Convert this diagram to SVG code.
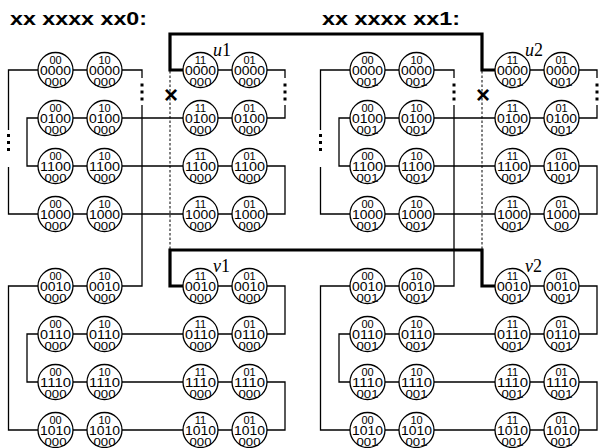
<svg xmlns="http://www.w3.org/2000/svg" width="600" height="448" viewBox="0 0 600 448">
<defs>
<style>
.n circle{fill:#fff;stroke:#000;stroke-width:1.3}
.n text{font-family:"Liberation Sans",Arial,sans-serif;text-anchor:middle;fill:#000}
.t{font-size:11px}
.m{font-size:12px}
.b{font-size:11.5px}
.c{fill:none;stroke:#000;stroke-width:1.3}
.k{fill:none;stroke:#000;stroke-width:3.2}
.d{fill:none;stroke:#000;stroke-width:1;stroke-dasharray:2.5 2}
.dt{fill:#000}
.title{font-family:"Liberation Sans",Arial,sans-serif;font-weight:bold;font-size:19px}
.lab{font-family:"Liberation Serif","Times New Roman",serif;font-size:18px}
.x{font-family:"Liberation Sans",Arial,sans-serif;font-weight:bold;font-size:24px;text-anchor:middle}
</style>
</defs>
<text class="title" x="10" y="24.5" textLength="137" lengthAdjust="spacingAndGlyphs">xx xxxx xx0:</text>
<text class="title" x="322" y="24.5" textLength="138" lengthAdjust="spacingAndGlyphs">xx xxxx xx1:</text>
<g id="connectors">
<g id="left-half">
<path class="c" d="M8.5,130 V70 H38 M73,70 H87 M122,70 H142 V78 M142,105 V286 H122 M218,70 H232 M267,70 H285 V78 M285,105 V118 H267"/>
<path class="c" d="M38,118 H27 V166 H38 M73,118 H87 M122,118 H183 M218,118 H232"/>
<path class="c" d="M73,166 H87 M122,166 H183 M218,166 H232 M267,166 H285 V214 H267"/>
<path class="c" d="M8.5,167 V214 H38 M73,214 H87 M122,214 H183 M218,214 H232"/>
<path class="c" d="M38,286 H8.5 V430 H38 M73,286 H87 M218,286 H232 M267,286 H285 V334 H267"/>
<path class="c" d="M38,334 H27 V382 H38 M73,334 H87 M122,334 H183 M218,334 H232"/>
<path class="c" d="M73,382 H87 M122,382 H183 M218,382 H232 M267,382 H285 V430 H267"/>
<path class="c" d="M73,430 H87 M122,430 H183 M218,430 H232"/>
<path class="d" d="M170,71 V249"/>
<rect class="dt" x="140.5" y="83.5" width="3" height="3"/><rect class="dt" x="140.5" y="90.5" width="3" height="3"/><rect class="dt" x="140.5" y="97.5" width="3" height="3"/>
<rect class="dt" x="283.5" y="83.5" width="3" height="3"/><rect class="dt" x="283.5" y="90.5" width="3" height="3"/><rect class="dt" x="283.5" y="97.5" width="3" height="3"/>
<rect class="dt" x="7" y="134" width="3" height="3"/><rect class="dt" x="7" y="141" width="3" height="3"/><rect class="dt" x="7" y="148" width="3" height="3"/>
<text class="x" x="171" y="103">×</text>
</g>
<g id="right-half" transform="translate(312,0)">
<path class="c" d="M8.5,130 V70 H38 M73,70 H87 M122,70 H142 V78 M142,105 V286 H122 M218,70 H232 M267,70 H285 V78 M285,105 V118 H267"/>
<path class="c" d="M38,118 H27 V166 H38 M73,118 H87 M122,118 H183 M218,118 H232"/>
<path class="c" d="M73,166 H87 M122,166 H183 M218,166 H232 M267,166 H285 V214 H267"/>
<path class="c" d="M8.5,167 V214 H38 M73,214 H87 M122,214 H183 M218,214 H232"/>
<path class="c" d="M38,286 H8.5 V430 H38 M73,286 H87 M218,286 H232 M267,286 H285 V334 H267"/>
<path class="c" d="M38,334 H27 V382 H38 M73,334 H87 M122,334 H183 M218,334 H232"/>
<path class="c" d="M73,382 H87 M122,382 H183 M218,382 H232 M267,382 H285 V430 H267"/>
<path class="c" d="M73,430 H87 M122,430 H183 M218,430 H232"/>
<path class="d" d="M170,71 V249"/>
<rect class="dt" x="140.5" y="83.5" width="3" height="3"/><rect class="dt" x="140.5" y="90.5" width="3" height="3"/><rect class="dt" x="140.5" y="97.5" width="3" height="3"/>
<rect class="dt" x="283.5" y="83.5" width="3" height="3"/><rect class="dt" x="283.5" y="90.5" width="3" height="3"/><rect class="dt" x="283.5" y="97.5" width="3" height="3"/>
<rect class="dt" x="7" y="134" width="3" height="3"/><rect class="dt" x="7" y="141" width="3" height="3"/><rect class="dt" x="7" y="148" width="3" height="3"/>
<text class="x" x="171" y="103">×</text>
</g>
<path id="edge-u1-u2" class="k" d="M183,70 H170 V34 H482 V70 H495"/>
<path id="edge-v1-v2" class="k" d="M183,286 H170 V250 H482 V286 H495"/>
</g>
<text class="lab" x="213" y="56"><tspan font-style="italic">u</tspan>1</text>
<text class="lab" x="525" y="56"><tspan font-style="italic">u</tspan>2</text>
<text class="lab" x="213" y="272"><tspan font-style="italic">v</tspan>1</text>
<text class="lab" x="525" y="272"><tspan font-style="italic">v</tspan>2</text>
<g id="nodes">
<g id="L00_0000" class="n" transform="translate(55.5,70)"><circle r="17.5"/><text class="t" y="-6">00</text><text class="m" y="4.5" textLength="31" lengthAdjust="spacingAndGlyphs">0000</text><text class="b" y="15.5" textLength="22" lengthAdjust="spacingAndGlyphs">000</text></g>
<g id="L10_0000" class="n" transform="translate(104.5,70)"><circle r="17.5"/><text class="t" y="-6">10</text><text class="m" y="4.5" textLength="31" lengthAdjust="spacingAndGlyphs">0000</text><text class="b" y="15.5" textLength="22" lengthAdjust="spacingAndGlyphs">000</text></g>
<g id="L11_0000" class="n" transform="translate(200.5,70)"><circle r="17.5"/><text class="t" y="-6">11</text><text class="m" y="4.5" textLength="31" lengthAdjust="spacingAndGlyphs">0000</text><text class="b" y="15.5" textLength="22" lengthAdjust="spacingAndGlyphs">000</text></g>
<g id="L01_0000" class="n" transform="translate(249.5,70)"><circle r="17.5"/><text class="t" y="-6">01</text><text class="m" y="4.5" textLength="31" lengthAdjust="spacingAndGlyphs">0000</text><text class="b" y="15.5" textLength="22" lengthAdjust="spacingAndGlyphs">000</text></g>
<g id="L00_0100" class="n" transform="translate(55.5,118)"><circle r="17.5"/><text class="t" y="-6">00</text><text class="m" y="4.5" textLength="31" lengthAdjust="spacingAndGlyphs">0100</text><text class="b" y="15.5" textLength="22" lengthAdjust="spacingAndGlyphs">000</text></g>
<g id="L10_0100" class="n" transform="translate(104.5,118)"><circle r="17.5"/><text class="t" y="-6">10</text><text class="m" y="4.5" textLength="31" lengthAdjust="spacingAndGlyphs">0100</text><text class="b" y="15.5" textLength="22" lengthAdjust="spacingAndGlyphs">000</text></g>
<g id="L11_0100" class="n" transform="translate(200.5,118)"><circle r="17.5"/><text class="t" y="-6">11</text><text class="m" y="4.5" textLength="31" lengthAdjust="spacingAndGlyphs">0100</text><text class="b" y="15.5" textLength="22" lengthAdjust="spacingAndGlyphs">000</text></g>
<g id="L01_0100" class="n" transform="translate(249.5,118)"><circle r="17.5"/><text class="t" y="-6">01</text><text class="m" y="4.5" textLength="31" lengthAdjust="spacingAndGlyphs">0100</text><text class="b" y="15.5" textLength="22" lengthAdjust="spacingAndGlyphs">000</text></g>
<g id="L00_1100" class="n" transform="translate(55.5,166)"><circle r="17.5"/><text class="t" y="-6">00</text><text class="m" y="4.5" textLength="31" lengthAdjust="spacingAndGlyphs">1100</text><text class="b" y="15.5" textLength="22" lengthAdjust="spacingAndGlyphs">000</text></g>
<g id="L10_1100" class="n" transform="translate(104.5,166)"><circle r="17.5"/><text class="t" y="-6">10</text><text class="m" y="4.5" textLength="31" lengthAdjust="spacingAndGlyphs">1100</text><text class="b" y="15.5" textLength="22" lengthAdjust="spacingAndGlyphs">000</text></g>
<g id="L11_1100" class="n" transform="translate(200.5,166)"><circle r="17.5"/><text class="t" y="-6">11</text><text class="m" y="4.5" textLength="31" lengthAdjust="spacingAndGlyphs">1100</text><text class="b" y="15.5" textLength="22" lengthAdjust="spacingAndGlyphs">000</text></g>
<g id="L01_1100" class="n" transform="translate(249.5,166)"><circle r="17.5"/><text class="t" y="-6">01</text><text class="m" y="4.5" textLength="31" lengthAdjust="spacingAndGlyphs">1100</text><text class="b" y="15.5" textLength="22" lengthAdjust="spacingAndGlyphs">000</text></g>
<g id="L00_1000" class="n" transform="translate(55.5,214)"><circle r="17.5"/><text class="t" y="-6">00</text><text class="m" y="4.5" textLength="31" lengthAdjust="spacingAndGlyphs">1000</text><text class="b" y="15.5" textLength="22" lengthAdjust="spacingAndGlyphs">000</text></g>
<g id="L10_1000" class="n" transform="translate(104.5,214)"><circle r="17.5"/><text class="t" y="-6">10</text><text class="m" y="4.5" textLength="31" lengthAdjust="spacingAndGlyphs">1000</text><text class="b" y="15.5" textLength="22" lengthAdjust="spacingAndGlyphs">000</text></g>
<g id="L11_1000" class="n" transform="translate(200.5,214)"><circle r="17.5"/><text class="t" y="-6">11</text><text class="m" y="4.5" textLength="31" lengthAdjust="spacingAndGlyphs">1000</text><text class="b" y="15.5" textLength="22" lengthAdjust="spacingAndGlyphs">000</text></g>
<g id="L01_1000" class="n" transform="translate(249.5,214)"><circle r="17.5"/><text class="t" y="-6">01</text><text class="m" y="4.5" textLength="31" lengthAdjust="spacingAndGlyphs">1000</text><text class="b" y="15.5" textLength="22" lengthAdjust="spacingAndGlyphs">000</text></g>
<g id="L00_0010" class="n" transform="translate(55.5,286)"><circle r="17.5"/><text class="t" y="-6">00</text><text class="m" y="4.5" textLength="31" lengthAdjust="spacingAndGlyphs">0010</text><text class="b" y="15.5" textLength="22" lengthAdjust="spacingAndGlyphs">000</text></g>
<g id="L10_0010" class="n" transform="translate(104.5,286)"><circle r="17.5"/><text class="t" y="-6">10</text><text class="m" y="4.5" textLength="31" lengthAdjust="spacingAndGlyphs">0010</text><text class="b" y="15.5" textLength="22" lengthAdjust="spacingAndGlyphs">000</text></g>
<g id="L11_0010" class="n" transform="translate(200.5,286)"><circle r="17.5"/><text class="t" y="-6">11</text><text class="m" y="4.5" textLength="31" lengthAdjust="spacingAndGlyphs">0010</text><text class="b" y="15.5" textLength="22" lengthAdjust="spacingAndGlyphs">000</text></g>
<g id="L01_0010" class="n" transform="translate(249.5,286)"><circle r="17.5"/><text class="t" y="-6">01</text><text class="m" y="4.5" textLength="31" lengthAdjust="spacingAndGlyphs">0010</text><text class="b" y="15.5" textLength="22" lengthAdjust="spacingAndGlyphs">000</text></g>
<g id="L00_0110" class="n" transform="translate(55.5,334)"><circle r="17.5"/><text class="t" y="-6">00</text><text class="m" y="4.5" textLength="31" lengthAdjust="spacingAndGlyphs">0110</text><text class="b" y="15.5" textLength="22" lengthAdjust="spacingAndGlyphs">000</text></g>
<g id="L10_0110" class="n" transform="translate(104.5,334)"><circle r="17.5"/><text class="t" y="-6">10</text><text class="m" y="4.5" textLength="31" lengthAdjust="spacingAndGlyphs">0110</text><text class="b" y="15.5" textLength="22" lengthAdjust="spacingAndGlyphs">000</text></g>
<g id="L11_0110" class="n" transform="translate(200.5,334)"><circle r="17.5"/><text class="t" y="-6">11</text><text class="m" y="4.5" textLength="31" lengthAdjust="spacingAndGlyphs">0110</text><text class="b" y="15.5" textLength="22" lengthAdjust="spacingAndGlyphs">000</text></g>
<g id="L01_0110" class="n" transform="translate(249.5,334)"><circle r="17.5"/><text class="t" y="-6">01</text><text class="m" y="4.5" textLength="31" lengthAdjust="spacingAndGlyphs">0110</text><text class="b" y="15.5" textLength="22" lengthAdjust="spacingAndGlyphs">000</text></g>
<g id="L00_1110" class="n" transform="translate(55.5,382)"><circle r="17.5"/><text class="t" y="-6">00</text><text class="m" y="4.5" textLength="31" lengthAdjust="spacingAndGlyphs">1110</text><text class="b" y="15.5" textLength="22" lengthAdjust="spacingAndGlyphs">000</text></g>
<g id="L10_1110" class="n" transform="translate(104.5,382)"><circle r="17.5"/><text class="t" y="-6">10</text><text class="m" y="4.5" textLength="31" lengthAdjust="spacingAndGlyphs">1110</text><text class="b" y="15.5" textLength="22" lengthAdjust="spacingAndGlyphs">000</text></g>
<g id="L11_1110" class="n" transform="translate(200.5,382)"><circle r="17.5"/><text class="t" y="-6">11</text><text class="m" y="4.5" textLength="31" lengthAdjust="spacingAndGlyphs">1110</text><text class="b" y="15.5" textLength="22" lengthAdjust="spacingAndGlyphs">000</text></g>
<g id="L01_1110" class="n" transform="translate(249.5,382)"><circle r="17.5"/><text class="t" y="-6">01</text><text class="m" y="4.5" textLength="31" lengthAdjust="spacingAndGlyphs">1110</text><text class="b" y="15.5" textLength="22" lengthAdjust="spacingAndGlyphs">000</text></g>
<g id="L00_1010" class="n" transform="translate(55.5,430)"><circle r="17.5"/><text class="t" y="-6">00</text><text class="m" y="4.5" textLength="31" lengthAdjust="spacingAndGlyphs">1010</text><text class="b" y="15.5" textLength="22" lengthAdjust="spacingAndGlyphs">000</text></g>
<g id="L10_1010" class="n" transform="translate(104.5,430)"><circle r="17.5"/><text class="t" y="-6">10</text><text class="m" y="4.5" textLength="31" lengthAdjust="spacingAndGlyphs">1010</text><text class="b" y="15.5" textLength="22" lengthAdjust="spacingAndGlyphs">000</text></g>
<g id="L11_1010" class="n" transform="translate(200.5,430)"><circle r="17.5"/><text class="t" y="-6">11</text><text class="m" y="4.5" textLength="31" lengthAdjust="spacingAndGlyphs">1010</text><text class="b" y="15.5" textLength="22" lengthAdjust="spacingAndGlyphs">000</text></g>
<g id="L01_1010" class="n" transform="translate(249.5,430)"><circle r="17.5"/><text class="t" y="-6">01</text><text class="m" y="4.5" textLength="31" lengthAdjust="spacingAndGlyphs">1010</text><text class="b" y="15.5" textLength="22" lengthAdjust="spacingAndGlyphs">000</text></g>
<g id="R00_0000" class="n" transform="translate(367.5,70)"><circle r="17.5"/><text class="t" y="-6">00</text><text class="m" y="4.5" textLength="31" lengthAdjust="spacingAndGlyphs">0000</text><text class="b" y="15.5" textLength="22" lengthAdjust="spacingAndGlyphs">001</text></g>
<g id="R10_0000" class="n" transform="translate(416.5,70)"><circle r="17.5"/><text class="t" y="-6">10</text><text class="m" y="4.5" textLength="31" lengthAdjust="spacingAndGlyphs">0000</text><text class="b" y="15.5" textLength="22" lengthAdjust="spacingAndGlyphs">001</text></g>
<g id="R11_0000" class="n" transform="translate(512.5,70)"><circle r="17.5"/><text class="t" y="-6">11</text><text class="m" y="4.5" textLength="31" lengthAdjust="spacingAndGlyphs">0000</text><text class="b" y="15.5" textLength="22" lengthAdjust="spacingAndGlyphs">001</text></g>
<g id="R01_0000" class="n" transform="translate(561.5,70)"><circle r="17.5"/><text class="t" y="-6">01</text><text class="m" y="4.5" textLength="31" lengthAdjust="spacingAndGlyphs">0000</text><text class="b" y="15.5" textLength="22" lengthAdjust="spacingAndGlyphs">001</text></g>
<g id="R00_0100" class="n" transform="translate(367.5,118)"><circle r="17.5"/><text class="t" y="-6">00</text><text class="m" y="4.5" textLength="31" lengthAdjust="spacingAndGlyphs">0100</text><text class="b" y="15.5" textLength="22" lengthAdjust="spacingAndGlyphs">001</text></g>
<g id="R10_0100" class="n" transform="translate(416.5,118)"><circle r="17.5"/><text class="t" y="-6">10</text><text class="m" y="4.5" textLength="31" lengthAdjust="spacingAndGlyphs">0100</text><text class="b" y="15.5" textLength="22" lengthAdjust="spacingAndGlyphs">001</text></g>
<g id="R11_0100" class="n" transform="translate(512.5,118)"><circle r="17.5"/><text class="t" y="-6">11</text><text class="m" y="4.5" textLength="31" lengthAdjust="spacingAndGlyphs">0100</text><text class="b" y="15.5" textLength="22" lengthAdjust="spacingAndGlyphs">001</text></g>
<g id="R01_0100" class="n" transform="translate(561.5,118)"><circle r="17.5"/><text class="t" y="-6">01</text><text class="m" y="4.5" textLength="31" lengthAdjust="spacingAndGlyphs">0100</text><text class="b" y="15.5" textLength="22" lengthAdjust="spacingAndGlyphs">001</text></g>
<g id="R00_1100" class="n" transform="translate(367.5,166)"><circle r="17.5"/><text class="t" y="-6">00</text><text class="m" y="4.5" textLength="31" lengthAdjust="spacingAndGlyphs">1100</text><text class="b" y="15.5" textLength="22" lengthAdjust="spacingAndGlyphs">001</text></g>
<g id="R10_1100" class="n" transform="translate(416.5,166)"><circle r="17.5"/><text class="t" y="-6">10</text><text class="m" y="4.5" textLength="31" lengthAdjust="spacingAndGlyphs">1100</text><text class="b" y="15.5" textLength="22" lengthAdjust="spacingAndGlyphs">001</text></g>
<g id="R11_1100" class="n" transform="translate(512.5,166)"><circle r="17.5"/><text class="t" y="-6">11</text><text class="m" y="4.5" textLength="31" lengthAdjust="spacingAndGlyphs">1100</text><text class="b" y="15.5" textLength="22" lengthAdjust="spacingAndGlyphs">001</text></g>
<g id="R01_1100" class="n" transform="translate(561.5,166)"><circle r="17.5"/><text class="t" y="-6">01</text><text class="m" y="4.5" textLength="31" lengthAdjust="spacingAndGlyphs">1100</text><text class="b" y="15.5" textLength="22" lengthAdjust="spacingAndGlyphs">001</text></g>
<g id="R00_1000" class="n" transform="translate(367.5,214)"><circle r="17.5"/><text class="t" y="-6">00</text><text class="m" y="4.5" textLength="31" lengthAdjust="spacingAndGlyphs">1000</text><text class="b" y="15.5" textLength="22" lengthAdjust="spacingAndGlyphs">001</text></g>
<g id="R10_1000" class="n" transform="translate(416.5,214)"><circle r="17.5"/><text class="t" y="-6">10</text><text class="m" y="4.5" textLength="31" lengthAdjust="spacingAndGlyphs">1000</text><text class="b" y="15.5" textLength="22" lengthAdjust="spacingAndGlyphs">001</text></g>
<g id="R11_1000" class="n" transform="translate(512.5,214)"><circle r="17.5"/><text class="t" y="-6">11</text><text class="m" y="4.5" textLength="31" lengthAdjust="spacingAndGlyphs">1000</text><text class="b" y="15.5" textLength="22" lengthAdjust="spacingAndGlyphs">001</text></g>
<g id="R01_1000" class="n" transform="translate(561.5,214)"><circle r="17.5"/><text class="t" y="-6">01</text><text class="m" y="4.5" textLength="31" lengthAdjust="spacingAndGlyphs">1000</text><text class="b" y="15.5" textLength="15" lengthAdjust="spacingAndGlyphs">00</text></g>
<g id="R00_0010" class="n" transform="translate(367.5,286)"><circle r="17.5"/><text class="t" y="-6">00</text><text class="m" y="4.5" textLength="31" lengthAdjust="spacingAndGlyphs">0010</text><text class="b" y="15.5" textLength="22" lengthAdjust="spacingAndGlyphs">001</text></g>
<g id="R10_0010" class="n" transform="translate(416.5,286)"><circle r="17.5"/><text class="t" y="-6">10</text><text class="m" y="4.5" textLength="31" lengthAdjust="spacingAndGlyphs">0010</text><text class="b" y="15.5" textLength="22" lengthAdjust="spacingAndGlyphs">001</text></g>
<g id="R11_0010" class="n" transform="translate(512.5,286)"><circle r="17.5"/><text class="t" y="-6">11</text><text class="m" y="4.5" textLength="31" lengthAdjust="spacingAndGlyphs">0010</text><text class="b" y="15.5" textLength="22" lengthAdjust="spacingAndGlyphs">001</text></g>
<g id="R01_0010" class="n" transform="translate(561.5,286)"><circle r="17.5"/><text class="t" y="-6">01</text><text class="m" y="4.5" textLength="31" lengthAdjust="spacingAndGlyphs">0010</text><text class="b" y="15.5" textLength="22" lengthAdjust="spacingAndGlyphs">001</text></g>
<g id="R00_0110" class="n" transform="translate(367.5,334)"><circle r="17.5"/><text class="t" y="-6">00</text><text class="m" y="4.5" textLength="31" lengthAdjust="spacingAndGlyphs">0110</text><text class="b" y="15.5" textLength="22" lengthAdjust="spacingAndGlyphs">001</text></g>
<g id="R10_0110" class="n" transform="translate(416.5,334)"><circle r="17.5"/><text class="t" y="-6">10</text><text class="m" y="4.5" textLength="31" lengthAdjust="spacingAndGlyphs">0110</text><text class="b" y="15.5" textLength="22" lengthAdjust="spacingAndGlyphs">001</text></g>
<g id="R11_0110" class="n" transform="translate(512.5,334)"><circle r="17.5"/><text class="t" y="-6">11</text><text class="m" y="4.5" textLength="31" lengthAdjust="spacingAndGlyphs">0110</text><text class="b" y="15.5" textLength="22" lengthAdjust="spacingAndGlyphs">001</text></g>
<g id="R01_0110" class="n" transform="translate(561.5,334)"><circle r="17.5"/><text class="t" y="-6">01</text><text class="m" y="4.5" textLength="31" lengthAdjust="spacingAndGlyphs">0110</text><text class="b" y="15.5" textLength="22" lengthAdjust="spacingAndGlyphs">001</text></g>
<g id="R00_1110" class="n" transform="translate(367.5,382)"><circle r="17.5"/><text class="t" y="-6">00</text><text class="m" y="4.5" textLength="31" lengthAdjust="spacingAndGlyphs">1110</text><text class="b" y="15.5" textLength="22" lengthAdjust="spacingAndGlyphs">001</text></g>
<g id="R10_1110" class="n" transform="translate(416.5,382)"><circle r="17.5"/><text class="t" y="-6">10</text><text class="m" y="4.5" textLength="31" lengthAdjust="spacingAndGlyphs">1110</text><text class="b" y="15.5" textLength="22" lengthAdjust="spacingAndGlyphs">001</text></g>
<g id="R11_1110" class="n" transform="translate(512.5,382)"><circle r="17.5"/><text class="t" y="-6">11</text><text class="m" y="4.5" textLength="31" lengthAdjust="spacingAndGlyphs">1110</text><text class="b" y="15.5" textLength="22" lengthAdjust="spacingAndGlyphs">001</text></g>
<g id="R01_1110" class="n" transform="translate(561.5,382)"><circle r="17.5"/><text class="t" y="-6">01</text><text class="m" y="4.5" textLength="31" lengthAdjust="spacingAndGlyphs">1110</text><text class="b" y="15.5" textLength="22" lengthAdjust="spacingAndGlyphs">001</text></g>
<g id="R00_1010" class="n" transform="translate(367.5,430)"><circle r="17.5"/><text class="t" y="-6">00</text><text class="m" y="4.5" textLength="31" lengthAdjust="spacingAndGlyphs">1010</text><text class="b" y="15.5" textLength="22" lengthAdjust="spacingAndGlyphs">001</text></g>
<g id="R10_1010" class="n" transform="translate(416.5,430)"><circle r="17.5"/><text class="t" y="-6">10</text><text class="m" y="4.5" textLength="31" lengthAdjust="spacingAndGlyphs">1010</text><text class="b" y="15.5" textLength="22" lengthAdjust="spacingAndGlyphs">001</text></g>
<g id="R11_1010" class="n" transform="translate(512.5,430)"><circle r="17.5"/><text class="t" y="-6">11</text><text class="m" y="4.5" textLength="31" lengthAdjust="spacingAndGlyphs">1010</text><text class="b" y="15.5" textLength="22" lengthAdjust="spacingAndGlyphs">001</text></g>
<g id="R01_1010" class="n" transform="translate(561.5,430)"><circle r="17.5"/><text class="t" y="-6">01</text><text class="m" y="4.5" textLength="31" lengthAdjust="spacingAndGlyphs">1010</text><text class="b" y="15.5" textLength="22" lengthAdjust="spacingAndGlyphs">001</text></g>
</g>
</svg>
